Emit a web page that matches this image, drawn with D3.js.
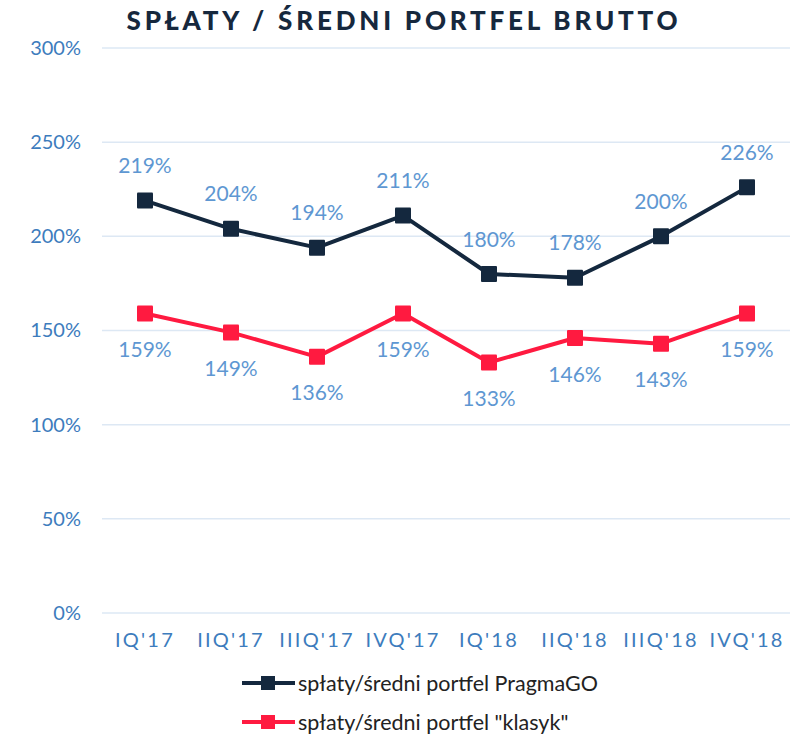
<!DOCTYPE html>
<html>
<head>
<meta charset="utf-8">
<script src="https://cdn.jsdelivr.net/npm/d3@7"></script>
<style>
  body { margin: 0; background: #fff; }
  text { font-family: Lato, "Open Sans", sans-serif; }
</style>
</head>
<body>
<svg width="797" height="734"></svg>
<script>
const quarters = ["IQ'17", "IIQ'17", "IIIQ'17", "IVQ'17", "IQ'18", "IIQ'18", "IIIQ'18", "IVQ'18"];
const pragmaGO = [219, 204, 194, 211, 180, 178, 200, 226];
const klasyk = [159, 149, 136, 159, 133, 146, 143, 159];
const yTicks = [0, 50, 100, 150, 200, 250, 300];
const seriesNames = ["spłaty/średni portfel PragmaGO", "spłaty/średni portfel \"klasyk\""];

const svg = d3.select("svg");

const x = d3.scaleBand()
    .domain(quarters)
    .range([102, 790]);

const y = d3.scaleLinear()
    .domain([0, 300])
    .range([613, 48]);

// title
svg.append("text")
    .attr("x", 404)
    .attr("y", 30)
    .attr("text-anchor", "middle")
    .style("font-size", "26px")
    .style("font-weight", 900)
    .style("letter-spacing", "3.8px")
    .style("fill", "#16283d")
    .text("SPŁATY / ŚREDNI PORTFEL BRUTTO");

// gridlines
svg.append("g")
    .selectAll("line")
    .data(yTicks)
    .enter().append("line")
    .attr("x1", 102)
    .attr("x2", 790)
    .attr("y1", d => y(d))
    .attr("y2", d => y(d))
    .style("stroke", "#dde8f4")
    .style("stroke-width", 1.5);

// y axis
var yAxis = d3.axisLeft(y).tickValues(yTicks).tickSize(0).tickPadding(0).tickFormat(d => d + "%");
var gy = svg.append("g")
    .attr("transform", "translate(81,0)")
    .call(yAxis);
gy.select(".domain").remove();
gy.selectAll("text")
    .style("font-size", "20px")
    .style("fill", "#3d7cbd")
    .style("font-family", "Lato, sans-serif");

// x axis
var xAxis = d3.axisBottom(x).tickSize(0).tickPadding(0);
var gx = svg.append("g")
    .attr("transform", "translate(0,633)")
    .call(xAxis);
gx.select(".domain").remove();
gx.selectAll("text")
    .style("font-size", "20px")
    .style("letter-spacing", "2.2px")
    .style("fill", "#3d7cbd")
    .style("font-family", "Lato, sans-serif");

const line = d3.line()
    .x((d, i) => x(quarters[i]) + x.bandwidth() / 2)
    .y(d => y(d));

const series = [
    { values: pragmaGO, color: "#14283e", dy: -36 },
    { values: klasyk, color: "#ff1a40", dy: 35 }
];

series.forEach(s => {
    svg.append("path")
        .datum(s.values)
        .attr("d", line)
        .style("fill", "none")
        .style("stroke", s.color)
        .style("stroke-width", 4)
        .style("stroke-linejoin", "round");

    svg.append("g")
        .selectAll("rect")
        .data(s.values)
        .enter().append("rect")
        .attr("x", (d, i) => x(quarters[i]) + x.bandwidth() / 2 - 8)
        .attr("y", d => y(d) - 8)
        .attr("width", 16)
        .attr("height", 16)
        .attr("rx", 1)
        .style("fill", s.color);

    svg.append("g")
        .selectAll("text")
        .data(s.values)
        .enter().append("text")
        .attr("x", (d, i) => x(quarters[i]) + x.bandwidth() / 2)
        .attr("y", d => y(d) + s.dy)
        .attr("text-anchor", "middle")
        .attr("dominant-baseline", "central")
        .style("font-size", "21px")
        .style("fill", "#5e97d2")
        .text(d => d + "%");
});

// legend
const legend = svg.append("g")
    .selectAll("g")
    .data(series)
    .enter().append("g")
    .attr("transform", (d, i) => "translate(0," + (683 + i * 39) + ")");

legend.append("line")
    .attr("x1", 242).attr("x2", 295)
    .attr("y1", 0).attr("y2", 0)
    .style("stroke", d => d.color)
    .style("stroke-width", 4);

legend.append("rect")
    .attr("x", 261).attr("y", -7)
    .attr("width", 14).attr("height", 14)
    .style("fill", d => d.color);

legend.append("text")
    .attr("x", 298)
    .attr("y", 0)
    .attr("dominant-baseline", "central")
    .style("font-size", "21.5px")
    .style("fill", "#222")
    .text((d, i) => seriesNames[i]);
</script>
</body>
</html>
